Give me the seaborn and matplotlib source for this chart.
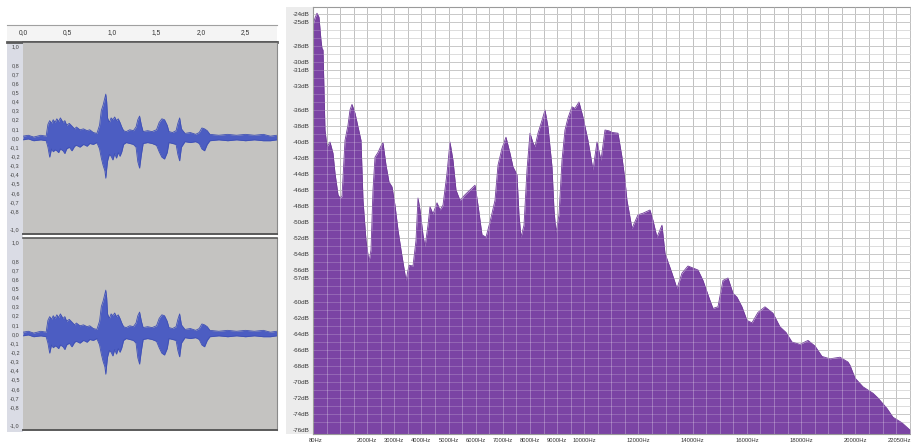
import matplotlib
matplotlib.use("Agg")
import matplotlib.pyplot as plt
import seaborn as sns
import pandas as pd
from matplotlib.patches import Rectangle
from matplotlib.ticker import FixedLocator, MultipleLocator

sns.set_style("white")
plt.rcParams["font.family"] = ["Liberation Sans", "DejaVu Sans"]

# ---- waveform envelope (seconds, peak amplitude) ----
wave_time = [0.00, 0.06, 0.12, 0.20, 0.26, 0.28, 0.30, 0.32, 0.34, 0.36,
             0.38, 0.40, 0.42, 0.45, 0.47, 0.49, 0.52, 0.55, 0.58, 0.60,
             0.64, 0.68, 0.72, 0.75, 0.79, 0.83, 0.86, 0.88, 0.90, 0.92,
             0.93, 0.94, 0.95, 0.97, 0.99, 1.01, 1.03, 1.05, 1.07, 1.09,
             1.11, 1.13, 1.16, 1.20, 1.24, 1.27, 1.29, 1.31, 1.33, 1.35,
             1.40, 1.45, 1.50, 1.53, 1.56, 1.59, 1.62, 1.64, 1.68, 1.72,
             1.74, 1.76, 1.78, 1.82, 1.88, 1.94, 1.98, 2.01, 2.04, 2.07,
             2.10, 2.20, 2.30, 2.40, 2.50, 2.60, 2.70, 2.78, 2.85]
wave_upper = [0.02, 0.03, 0.01, 0.03, 0.02, 0.15, 0.19, 0.16, 0.20, 0.17,
              0.21, 0.18, 0.22, 0.17, 0.19, 0.14, 0.16, 0.13, 0.10, 0.12,
              0.09, 0.10, 0.08, 0.09, 0.06, 0.05, 0.14, 0.30, 0.36, 0.44,
              0.48, 0.40, 0.22, 0.17, 0.22, 0.20, 0.23, 0.19, 0.21, 0.17,
              0.12, 0.08, 0.07, 0.09, 0.08, 0.12, 0.20, 0.24, 0.14, 0.07,
              0.08, 0.07, 0.09, 0.17, 0.21, 0.20, 0.14, 0.07, 0.06, 0.08,
              0.16, 0.22, 0.10, 0.05, 0.06, 0.04, 0.06, 0.11, 0.10, 0.08,
              0.04, 0.03, 0.04, 0.03, 0.04, 0.03, 0.04, 0.02, 0.03]
wave_lower = [-0.02, -0.01, -0.03, -0.02, -0.03, -0.10, -0.21, -0.12, -0.15, -0.13,
              -0.14, -0.16, -0.12, -0.14, -0.17, -0.12, -0.10, -0.14, -0.09, -0.08,
              -0.10, -0.07, -0.09, -0.06, -0.07, -0.05, -0.12, -0.22, -0.30, -0.36,
              -0.44, -0.34, -0.25, -0.18, -0.20, -0.24, -0.17, -0.22, -0.16, -0.20,
              -0.15, -0.07, -0.05, -0.06, -0.07, -0.10, -0.26, -0.33, -0.18, -0.06,
              -0.05, -0.06, -0.08, -0.15, -0.21, -0.23, -0.16, -0.05, -0.06, -0.07,
              -0.18, -0.25, -0.10, -0.04, -0.05, -0.04, -0.06, -0.12, -0.14, -0.07,
              -0.03, -0.02, -0.03, -0.02, -0.03, -0.02, -0.03, -0.03, -0.02]

amp_ticks = [1.0, 0.8, 0.7, 0.6, 0.5, 0.4, 0.3, 0.2, 0.1, 0.0,
             -0.1, -0.2, -0.3, -0.4, -0.5, -0.6, -0.7, -0.8, -1.0]
time_ticks = [0.0, 0.5, 1.0, 1.5, 2.0, 2.5]

# ---- frequency spectrum (Hz, dB) ----
freq_hz = [0, 74, 147, 221, 295, 332, 369, 442, 516, 627,
           737, 811, 922, 996, 1069, 1180, 1290, 1364, 1438, 1549,
           1659, 1770, 1844, 1954, 2065, 2138, 2212, 2286, 2397, 2507,
           2581, 2692, 2802, 2913, 3023, 3134, 3245, 3355, 3429, 3540,
           3687, 3798, 3871, 3945, 4056, 4129, 4240, 4314, 4424, 4572,
           4682, 4793, 4941, 5051, 5162, 5272, 5420, 5604, 5789, 5973,
           6084, 6231, 6378, 6526, 6710, 6821, 6968, 7116, 7263, 7374,
           7521, 7595, 7669, 7780, 7890, 8001, 8111, 8185, 8296, 8443,
           8554, 8664, 8812, 8886, 8959, 9070, 9181, 9291, 9402, 9549,
           9660, 9807, 9955, 10139, 10324, 10471, 10619, 10766, 10914, 11024,
           11245, 11393, 11503, 11577, 11762, 11983, 12167, 12425, 12536, 12683,
           12868, 12978, 13236, 13421, 13605, 13826, 14195, 14379, 14637, 14748,
           14932, 15117, 15301, 15485, 15633, 15817, 16002, 16186, 16407, 16665,
           16960, 17218, 17440, 17661, 17956, 18251, 18509, 18767, 19062, 19431,
           19725, 19799, 19984, 20279, 20647, 20832, 21163, 21385, 21717, 22011]
level_db = [-25.4, -24.5, -23.9, -24.4, -27.3, -28.3, -28.5, -38.5, -40.6, -40.0,
            -41.4, -43.9, -46.6, -47.0, -46.8, -39.8, -37.9, -36.0, -35.3, -36.4,
            -38.1, -39.8, -47.3, -52.3, -55.0, -53.5, -46.0, -41.9, -41.3, -40.5,
            -40.1, -42.9, -45.0, -45.6, -47.9, -51.0, -53.5, -55.8, -57.3, -55.4,
            -55.5, -52.3, -47.0, -48.5, -51.6, -53.1, -50.4, -48.1, -49.0, -47.6,
            -48.5, -47.9, -43.9, -40.0, -42.3, -46.0, -47.3, -46.6, -46.0, -45.4,
            -47.9, -51.6, -51.9, -50.0, -47.3, -42.9, -40.8, -39.4, -41.4, -43.1,
            -44.1, -49.1, -51.9, -50.4, -43.5, -38.9, -40.1, -40.6, -38.9, -37.3,
            -36.0, -38.1, -43.1, -48.5, -51.3, -49.1, -42.3, -38.5, -37.0, -35.6,
            -35.8, -35.0, -36.9, -39.8, -43.5, -40.0, -42.3, -38.5, -38.6, -38.8,
            -38.9, -41.9, -44.8, -47.3, -50.8, -49.1, -48.9, -48.5, -49.8, -51.9,
            -50.4, -53.9, -56.4, -58.3, -56.4, -55.5, -56.0, -57.3, -59.8, -60.8,
            -60.6, -57.3, -57.0, -58.9, -59.4, -60.6, -62.3, -62.6, -61.3, -60.6,
            -61.4, -63.1, -63.8, -65.0, -65.3, -64.8, -65.5, -66.8, -67.1, -66.9,
            -67.5, -67.9, -69.5, -70.6, -71.4, -72.0, -73.3, -74.4, -75.1, -76.0]

freq_ticks = [80, 2000, 3000, 4000, 5000, 6000, 7000, 8000, 9000, 10000,
              12000, 14000, 16000, 18000, 20000, 22050]
db_ticks = [-24, -25, -28, -30, -31, -33, -36, -38, -40, -42, -44, -46, -48,
            -50, -52, -54, -56, -57, -60, -62, -64, -66, -68, -70, -72, -74, -76]

W, H = 912, 443


def box(x0, y0, x1, y1):
    return [x0 / W, 1 - y1 / H, (x1 - x0) / W, (y1 - y0) / H]


def fig_rect(fig, x0, y0, x1, y1, color):
    fig.add_artist(Rectangle((x0 / W, 1 - y1 / H), (x1 - x0) / W, (y1 - y0) / H,
                             transform=fig.transFigure, color=color, lw=0, zorder=0))


fig = plt.figure(figsize=(W / 100, H / 100), dpi=100)
fig.patch.set_facecolor("white")

# ================= waveform tracks =================
wave_df = pd.DataFrame({"t": wave_time, "hi": wave_upper, "lo": wave_lower})
t_left, t_right = (7 - 23) / 89, (277 - 23) / 89

fig_rect(fig, 7, 42, 23, 432, "#dadce5")

ruler = fig.add_axes(box(7, 25, 277, 42))
ruler.set_facecolor("#f4f4f4")
ruler.set_xlim(t_left, t_right)
ruler.set_ylim(0, 1)
ruler.set_yticks([])
ruler.xaxis.set_major_locator(FixedLocator(time_ticks))
ruler.xaxis.set_minor_locator(MultipleLocator(0.1))
ruler.set_xticklabels([f"{v:.1f}".replace(".", ",") for v in time_ticks])
ruler.tick_params(axis="x", which="major", direction="in", length=4, width=0.6,
                  color="#707070", labelsize=4.8, labelcolor="#333333", pad=-9)
ruler.tick_params(axis="x", which="minor", direction="in", length=2, width=0.5,
                  color="#808080")
for s in ["left", "right"]:
    ruler.spines[s].set_visible(False)
ruler.spines["top"].set_color("#a0a0a0")
ruler.spines["top"].set_linewidth(0.8)
ruler.spines["bottom"].set_color("#5a5a5a")
ruler.spines["bottom"].set_linewidth(2.0)

for (y0, y1) in [(42, 234), (238, 430)]:
    ax = fig.add_axes(box(23, y0, 277, y1))
    ax.set_facecolor("#c4c3c1")
    ax.fill_between(wave_df["t"], wave_df["lo"], wave_df["hi"],
                    color="#4c5dc2", lw=0, zorder=2)
    sns.lineplot(data=wave_df, x="t", y="hi", ax=ax, color="#3f50b5", lw=0.6, zorder=3)
    sns.lineplot(data=wave_df, x="t", y="lo", ax=ax, color="#3f50b5", lw=0.6, zorder=3)
    ax.set_xlim(0, t_right)
    ax.set_ylim(-1.05, 1.05)
    ax.set_xticks([])
    ax.set_yticks(amp_ticks)
    ax.set_yticklabels([f"{v:.1f}".replace(".", ",") for v in amp_ticks])
    ax.tick_params(axis="y", direction="out", length=1.5, width=0.5, color="#777777",
                   labelsize=4.0, labelcolor="#444444", pad=0.8)
    ax.set_xlabel("")
    ax.set_ylabel("")
    ax.spines["left"].set_visible(False)
    ax.spines["right"].set_color("#8a8a8a")
    ax.spines["right"].set_linewidth(0.8)
    ax.spines["top"].set_color("#5a5a5a")
    ax.spines["top"].set_linewidth(1.2)
    ax.spines["bottom"].set_color("#5a5a5a")
    ax.spines["bottom"].set_linewidth(1.4)

# ================= spectrum =================
spec_df = pd.DataFrame({"freq": freq_hz, "db": level_db})
db_bottom, db_top = -76.5, -23.125

fig_rect(fig, 286, 7, 313, 434, "#ececec")

sp = fig.add_axes(box(313, 7, 911, 434))
sp.set_facecolor("white")
sp.set_xlim(0, 22050)
sp.set_ylim(db_bottom, db_top)

v_lines = list(range(500, 22050, 500))
h_lines = list(range(-75, -23, 1))
sp.vlines(v_lines, db_bottom, db_top, color="#a9a9a9", lw=0.7, zorder=0.5)
sp.hlines(h_lines, 0, 22050, color="#cfcfcf", lw=0.6, zorder=0.4)
sp.hlines(db_ticks, 0, 22050, color="#b9b9b9", lw=0.6, zorder=0.45)

sp.fill_between(spec_df["freq"], spec_df["db"], db_bottom, color="#7b44a4", lw=0, zorder=2)
sns.lineplot(data=spec_df, x="freq", y="db", ax=sp, color="#6f3a98", lw=0.6, zorder=2.5)

# grid showing through the filled area
sp.vlines(v_lines, db_bottom, db_top, color="white", alpha=0.28, lw=0.7, zorder=3)
sp.hlines(h_lines, 0, 22050, color="white", alpha=0.22, lw=0.6, zorder=3)

sp.set_xticks(freq_ticks)
sp.set_xticklabels([f"{v}Hz" for v in freq_ticks])
sp.get_xticklabels()[-1].set_horizontalalignment("right")
sp.set_yticks(db_ticks)
sp.set_yticklabels([f"{v}dB" for v in db_ticks])
sp.tick_params(axis="x", direction="out", length=2, width=0.5, color="#777777",
               labelsize=4.2, labelcolor="#333333", pad=1)
sp.tick_params(axis="y", direction="out", length=2, width=0.5, color="#777777",
               labelsize=4.5, labelcolor="#333333", pad=0.8)
sp.set_xlabel("")
sp.set_ylabel("")
for s in sp.spines.values():
    s.set_color("#9a9a9a")
    s.set_linewidth(0.8)

fig.savefig("out.png", dpi=100, facecolor="white")
